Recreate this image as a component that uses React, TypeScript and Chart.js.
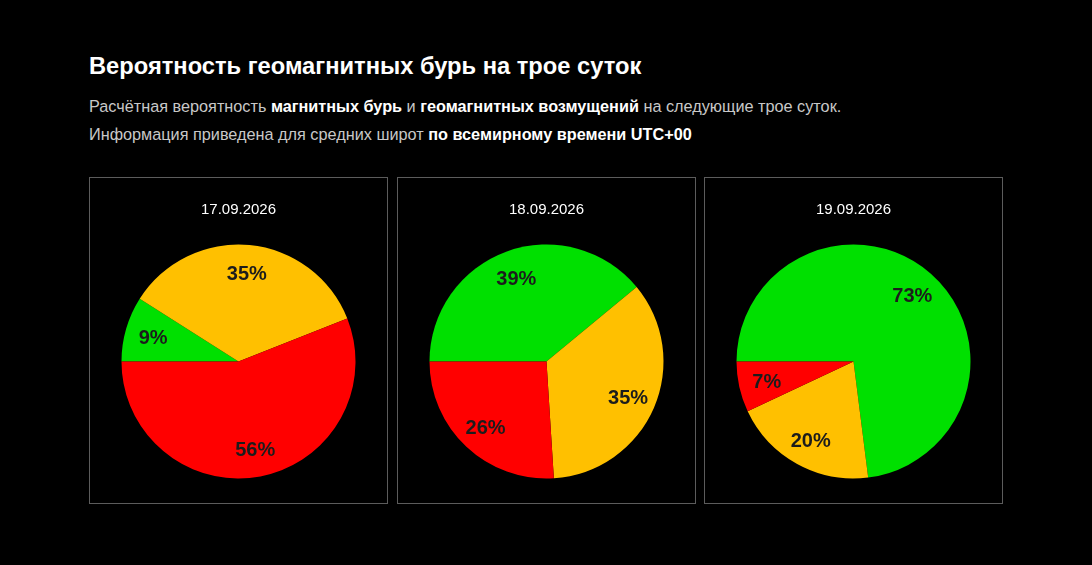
import React, { useEffect, useRef } from "react";
import { Chart, registerables } from "chart.js";

Chart.register(...registerables);

const categories = ["Спокойно", "Возмущения", "Магнитная буря"];
const dates = ["17.09.2026", "18.09.2026", "19.09.2026"];
const quietValues = [9, 39, 73];
const disturbValues = [35, 35, 20];
const stormValues = [56, 26, 7];
const sliceColors = ["#00e000", "#ffc000", "#ff0000"];

const FONT = '"Liberation Sans", Arial, Helvetica, sans-serif';

const pctLabels = {
  id: "pctLabels",
  afterDatasetsDraw(chart: any) {
    const ctx = chart.ctx;
    const meta = chart.getDatasetMeta(0);
    const data = chart.data.datasets[0].data;
    ctx.save();
    ctx.font = `bold 20px ${FONT}`;
    ctx.fillStyle = "#1c1c1c";
    ctx.textAlign = "center";
    ctx.textBaseline = "alphabetic";
    meta.data.forEach((arc: any, i: number) => {
      const p = arc.getProps(["x", "y", "startAngle", "endAngle", "outerRadius"], true);
      const mid = (p.startAngle + p.endAngle) / 2;
      const r = p.outerRadius * 0.76;
      ctx.fillText(`${data[i]}%`, p.x + Math.cos(mid) * r, p.y + Math.sin(mid) * r + 7.5);
    });
    ctx.restore();
  },
};

function PieBox({ idx, left }: { idx: number; left: number }) {
  const ref = useRef<HTMLCanvasElement | null>(null);
  useEffect(() => {
    if (!ref.current) return;
    const chart = new Chart(ref.current, {
      type: "pie",
      data: {
        labels: categories,
        datasets: [
          {
            data: [quietValues[idx], disturbValues[idx], stormValues[idx]],
            backgroundColor: sliceColors,
            borderWidth: 0,
          },
        ],
      },
      options: {
        animation: false,
        responsive: false,
        devicePixelRatio: 1,
        rotation: 270,
        radius: 117,
        layout: { padding: { top: 50, bottom: 8, left: 0, right: 0 } },
        plugins: {
          legend: { display: false },
          tooltip: { enabled: false },
          title: { display: false },
        },
      },
      plugins: [pctLabels],
    });
    return () => chart.destroy();
  }, [idx]);

  return (
    <div
      style={{
        position: "absolute",
        left,
        top: 177,
        width: 299,
        height: 327,
        boxSizing: "border-box",
        border: "1px solid #5c5c5c",
      }}
    >
      <div
        style={{
          position: "absolute",
          left: 0,
          top: 201 - 178,
          width: 297,
          textAlign: "center",
          font: `15px/15px ${FONT}`,
          color: "#ffffff",
          zIndex: 2,
        }}
      >
        {dates[idx]}
      </div>
      <canvas
        ref={ref}
        width={297}
        height={325}
        style={{ position: "absolute", left: 0, top: 0, width: 297, height: 325 }}
      />
    </div>
  );
}

export default function App() {
  useEffect(() => {
    document.body.style.margin = "0";
    document.body.style.background = "#000";
  }, []);
  const b = { color: "#ffffff", fontWeight: 700 } as const;
  return (
    <div
      style={{
        position: "absolute",
        left: 0,
        top: 0,
        width: 1092,
        height: 565,
        background: "#000",
        overflow: "hidden",
        fontFamily: FONT,
      }}
    >
      <div
        style={{
          position: "absolute",
          left: 89,
          top: 55,
          font: `bold 23.7px/23.7px ${FONT}`,
          color: "#fff",
          whiteSpace: "nowrap",
        }}
      >
        Вероятность геомагнитных бурь на трое суток
      </div>
      <div
        style={{
          position: "absolute",
          left: 89,
          top: 98,
          font: `16.25px/16px ${FONT}`,
          color: "#c8c8c8",
          whiteSpace: "nowrap",
        }}
      >
        Расчётная вероятность <span style={b}>магнитных бурь</span> и{" "}
        <span style={b}>геомагнитных возмущений</span> на следующие трое суток.
      </div>
      <div
        style={{
          position: "absolute",
          left: 89,
          top: 126,
          font: `16.25px/16px ${FONT}`,
          color: "#c8c8c8",
          whiteSpace: "nowrap",
        }}
      >
        Информация приведена для средних широт <span style={b}>по всемирному времени UTC+00</span>
      </div>
      <PieBox idx={0} left={89} />
      <PieBox idx={1} left={397} />
      <PieBox idx={2} left={704} />
    </div>
  );
}
